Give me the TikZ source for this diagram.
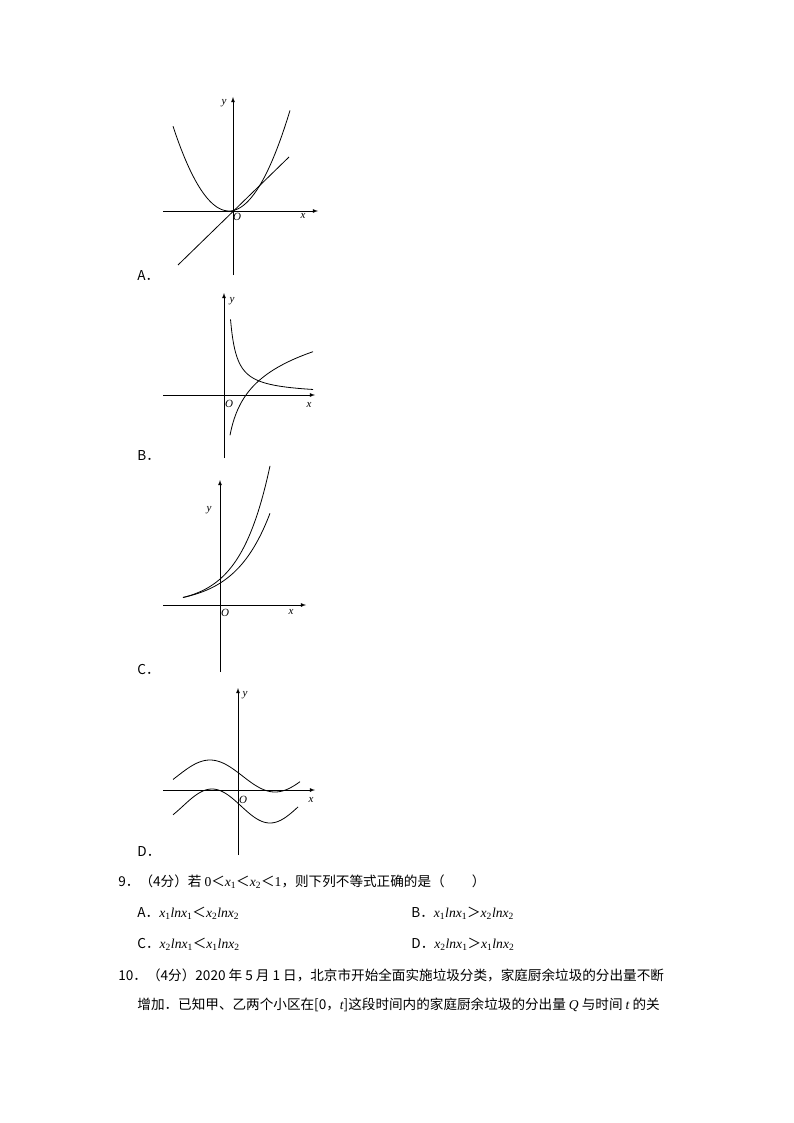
\documentclass[tikz,border=0pt]{standalone}
\usepackage{fontspec}
\setmainfont{Liberation Serif}
\newfontfamily\cjk{Noto Sans CJK SC}
\newcommand{\mi}[1]{{\rmfamily\itshape #1}}
\newcommand{\sbs}[1]{\textsubscript{\rmfamily #1}}
\begin{document}
\begin{tikzpicture}[x=1pt,y=-1pt,line width=0.8pt,
  ax/.style={-latex},
  lab/.style={font=\fontsize{11}{12}\selectfont\itshape,inner sep=0pt},
  txt/.style={anchor=west,inner sep=0pt,font=\cjk\fontsize{13.6}{15}\selectfont}]
\useasboundingbox[fill=white] (0,0) rectangle (794,1123);
% A
\draw[ax] (163,211) -- (318,211);
\draw[ax] (233,275) -- (233,97);
\draw[domain=173:290,samples=60,smooth] plot (\x,{211-(\x-229)^2/37});
\draw (178,265) -- (289,157);
\node[lab] (ay) at (224,103) {y};
\node[lab] (ax) at (303,216) {x};
\node[lab] (ao) at (237,217) {O};
\node[txt] (la) at (137,276) {A．};
% B
\draw[ax] (163,395) -- (315,395);
\draw[ax] (224,458) -- (224,293);
\draw[domain=230.5:313,samples=80,smooth] plot (\x,{395-492/(\x-224)});
\draw[domain=230:313,samples=80,smooth] plot (\x,{395-31*ln((\x-224)/22)});
\node[lab] (by) at (232,301) {y};
\node[lab] (bx) at (309,405) {x};
\node[lab] (bo) at (229,404) {O};
\node[txt] (lb) at (137,456) {B．};
% C
\draw[ax] (163,605) -- (306,605);
\draw[ax] (220,672) -- (220,480);
\draw[domain=183:270,samples=60,smooth] plot (\x,{605-8*exp(0.0336*(\x-185))});
\draw[domain=183:270,samples=60,smooth] plot (\x,{605-8*exp(0.0287*(\x-185))});
\node[lab] (cy) at (209,510) {y};
\node[lab] (cx) at (291,612) {x};
\node[lab] (co) at (225,613) {O};
\node[txt] (lc) at (137,670) {C．};
% D
\draw[ax] (163,790) -- (315,790);
\draw[ax] (238,855) -- (238,688);
\draw[domain=173:300,samples=80,smooth] plot (\x,{776-16*cos(2.769*(\x-210))});
\draw[domain=173:298,samples=80,smooth] plot (\x,{806-17*cos(3.103*(\x-212))});
\node[lab] (dy) at (245,695) {y};
\node[lab] (dx) at (311,800) {x};
\node[lab] (do) at (243,800) {O};
\node[txt] (ld) at (137,852) {D．};
% text
\node[txt] (q9) at (118,882) {9．（4分）若 {\rmfamily 0}＜\mi{x}\sbs{1}＜\mi{x}\sbs{2}＜{\rmfamily 1}，则下列不等式正确的是（\quad\quad）};
\node[txt] (o1) at (137,913) {A．\mi{x}\sbs{1}\mi{lnx}\sbs{1}＜\mi{x}\sbs{2}\mi{lnx}\sbs{2}};
\node[txt] (o2) at (411,913) {B．\mi{x}\sbs{1}\mi{lnx}\sbs{1}＞\mi{x}\sbs{2}\mi{lnx}\sbs{2}};
\node[txt] (o3) at (137,944) {C．\mi{x}\sbs{2}\mi{lnx}\sbs{1}＜\mi{x}\sbs{1}\mi{lnx}\sbs{2}};
\node[txt] (o4) at (411,944) {D．\mi{x}\sbs{2}\mi{lnx}\sbs{1}＞\mi{x}\sbs{1}\mi{lnx}\sbs{2}};
\node[txt] (q10) at (118,975) {10．（4分）2020 年 5 月 1 日，北京市开始全面实施垃圾分类，家庭厨余垃圾的分出量不断};
\node[txt] (q10b) at (137,1005) {增加．已知甲、乙两个小区在[0，\mi{t}]这段时间内的家庭厨余垃圾的分出量 \mi{Q} 与时间 \mi{t} 的关};
\end{tikzpicture}
\end{document}
